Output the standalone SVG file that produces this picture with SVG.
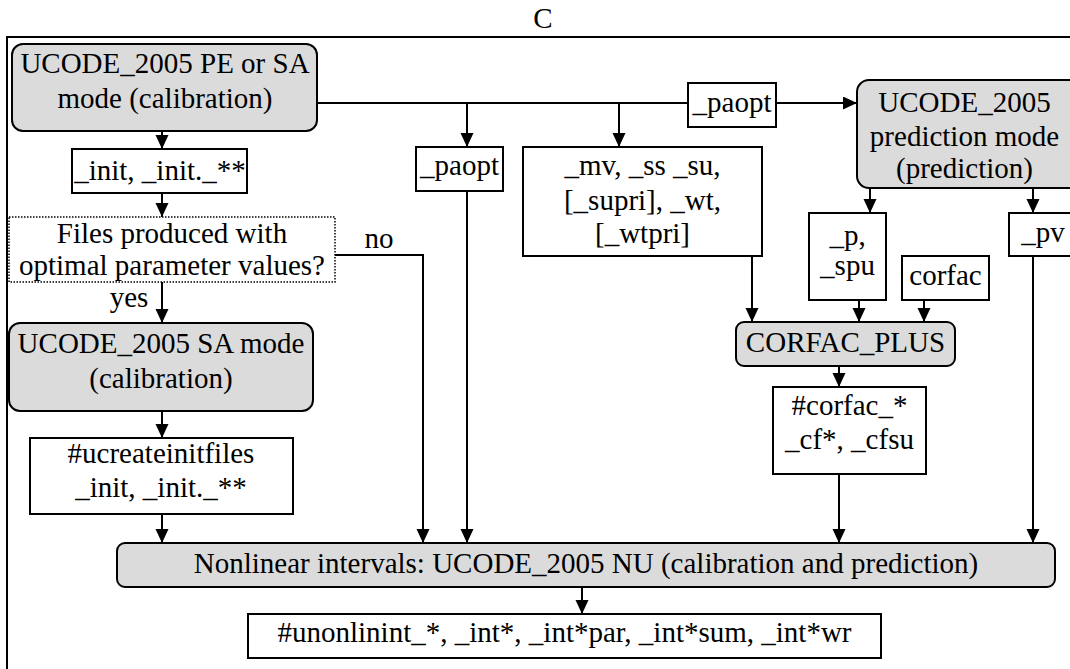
<svg xmlns="http://www.w3.org/2000/svg" width="1070" height="669" viewBox="0 0 1070 669">
<style>
.box{fill:#fff;stroke:#000;stroke-width:2}
.proc{fill:#dbdbdb;stroke:#000;stroke-width:2}
.dot{fill:#fff;stroke:#000;stroke-width:1.5;stroke-dasharray:1.5 1.5}
.ln{fill:none;stroke:#000;stroke-width:2}
.arr{fill:none;stroke:#000;stroke-width:2;marker-end:url(#ah)}
text.t{font-family:'Liberation Serif',serif !important;font-size:29px;text-anchor:middle;fill:#000}
</style>
<defs>
<marker id="ah" markerUnits="userSpaceOnUse" markerWidth="14" markerHeight="14" refX="14" refY="6.5" orient="auto">
<path d="M0,0 L14,6.5 L0,13 z" fill="#000"/>
</marker>
</defs>
<rect width="1070" height="669" fill="#fff"/>
<g id="frame">
<text class="t" style="font-family:'Liberation Serif',serif" x="543" y="28">C</text>
<path class="ln" d="M7,669 V37 H1070"/>
</g>
<g id="connectors">
<path class="arr" d="M162,131 V149"/>
<path class="arr" d="M162,193 V217"/>
<path class="arr" d="M162,282 V323"/>
<path class="arr" d="M162,411 V438"/>
<path class="arr" d="M162,514 V543"/>
<path class="arr" d="M335,255 H423 V543"/>
<path class="ln" d="M317,103 H688"/>
<path class="arr" d="M776,103 H857"/>
<path class="arr" d="M467,103 V147"/>
<path class="arr" d="M619,103 V147"/>
<path class="arr" d="M467,191 V543"/>
<path class="arr" d="M752,256 V322"/>
<path class="arr" d="M870,188 V213"/>
<path class="arr" d="M1033,188 V213"/>
<path class="arr" d="M859,300 V322"/>
<path class="arr" d="M924,300 V322"/>
<path class="arr" d="M839,366 V387"/>
<path class="arr" d="M839,474 V543"/>
<path class="arr" d="M1033,256 V543"/>
<path class="arr" d="M582,587 V614"/>
<text class="t" style="font-family:'Liberation Serif',serif" x="379" y="248">no</text>
<text class="t" style="font-family:'Liberation Serif',serif" x="129" y="307">yes</text>
</g>
<g id="n_pe_sa">
<rect class="proc" x="12" y="44" width="305" height="87" rx="11"/>
<text class="t" style="font-family:'Liberation Serif',serif" x="165" y="73">UCODE_2005 PE or SA</text>
<text class="t" style="font-family:'Liberation Serif',serif" x="165" y="108">mode (calibration)</text>
</g>
<g id="n_init">
<rect class="box" x="72" y="149" width="175" height="44"/>
<text class="t" style="font-family:'Liberation Serif',serif" x="160" y="180">_init, _init._**</text>
</g>
<g id="n_decision">
<rect class="dot" x="9" y="217" width="326" height="65"/>
<text class="t" style="font-family:'Liberation Serif',serif" x="172" y="243">Files produced with</text>
<text class="t" style="font-family:'Liberation Serif',serif" x="172" y="275">optimal parameter values?</text>
</g>
<g id="n_sa">
<rect class="proc" x="9" y="323" width="304" height="88" rx="11"/>
<text class="t" style="font-family:'Liberation Serif',serif" x="161" y="353">UCODE_2005 SA mode</text>
<text class="t" style="font-family:'Liberation Serif',serif" x="161" y="388">(calibration)</text>
</g>
<g id="n_ucreate">
<rect class="box" x="30" y="438" width="263" height="76"/>
<text class="t" style="font-family:'Liberation Serif',serif" x="161" y="463">#ucreateinitfiles</text>
<text class="t" style="font-family:'Liberation Serif',serif" x="161" y="497">_init, _init._**</text>
</g>
<g id="n_paopt1">
<rect class="box" x="416" y="147" width="87" height="44"/>
<text class="t" style="font-family:'Liberation Serif',serif" x="459.5" y="175">_paopt</text>
</g>
<g id="n_mv">
<rect class="box" x="523" y="147" width="239" height="109"/>
<text class="t" style="font-family:'Liberation Serif',serif" x="642.5" y="175">_mv, _ss _su,</text>
<text class="t" style="font-family:'Liberation Serif',serif" x="642.5" y="210">[_supri], _wt,</text>
<text class="t" style="font-family:'Liberation Serif',serif" x="642.5" y="243">[_wtpri]</text>
</g>
<g id="n_paopt2">
<rect class="box" x="688" y="83" width="88" height="44"/>
<text class="t" style="font-family:'Liberation Serif',serif" x="732" y="112">_paopt</text>
</g>
<g id="n_prediction">
<rect class="proc" x="857" y="80" width="230" height="108" rx="12"/>
<text class="t" style="font-family:'Liberation Serif',serif" x="964.5" y="112">UCODE_2005</text>
<text class="t" style="font-family:'Liberation Serif',serif" x="964.5" y="146">prediction mode</text>
<text class="t" style="font-family:'Liberation Serif',serif" x="964.5" y="178">(prediction)</text>
</g>
<g id="n_p_spu">
<rect class="box" x="809" y="213" width="77" height="87"/>
<text class="t" style="font-family:'Liberation Serif',serif" x="847.5" y="245">_p,</text>
<text class="t" style="font-family:'Liberation Serif',serif" x="847.5" y="275">_spu</text>
</g>
<g id="n_corfac">
<rect class="box" x="902" y="256" width="87" height="44"/>
<text class="t" style="font-family:'Liberation Serif',serif" x="945.5" y="285">corfac</text>
</g>
<g id="n_pv">
<rect class="box" x="1009" y="213" width="70" height="43"/>
<text class="t" style="font-family:'Liberation Serif',serif" x="1043" y="242">_pv</text>
</g>
<g id="n_corfac_plus">
<rect class="proc" x="736" y="322" width="219" height="44" rx="8"/>
<text class="t" style="font-family:'Liberation Serif',serif" x="845.5" y="352">CORFAC_PLUS</text>
</g>
<g id="n_corfac_out">
<rect class="box" x="773" y="387" width="153" height="87"/>
<text class="t" style="font-family:'Liberation Serif',serif" x="849.5" y="415">#corfac_*</text>
<text class="t" style="font-family:'Liberation Serif',serif" x="849.5" y="449">_cf*, _cfsu</text>
</g>
<g id="n_nonlinear">
<rect class="proc" x="117" y="543" width="938" height="44" rx="8"/>
<text class="t" style="font-family:'Liberation Serif',serif" x="586" y="573">Nonlinear intervals: UCODE_2005 NU (calibration and prediction)</text>
</g>
<g id="n_results">
<rect class="box" x="248" y="614" width="633" height="44"/>
<text class="t" style="font-family:'Liberation Serif',serif" x="564.5" y="642">#unonlinint_*, _int*, _int*par, _int*sum, _int*wr</text>
</g>
</svg>
